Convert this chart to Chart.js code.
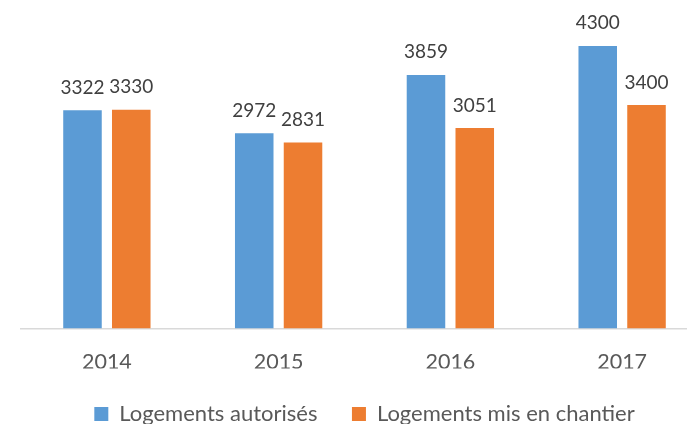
<!DOCTYPE html>
<html>
<head>
<meta charset="utf-8">
<script src="https://cdn.jsdelivr.net/npm/chart.js@4"></script>
<style>
  html, body { margin: 0; padding: 0; background: #fff; overflow: hidden; }
  #wrap { position: relative; width: 708px; height: 435px; }
</style>
</head>
<body>
<div id="wrap"><canvas id="chart"></canvas></div>
<script>
// data
const years = ['2014', '2015', '2016', '2017'];
const autorises = [3322, 2972, 3859, 4300];
const chantier = [3330, 2831, 3051, 3400];
const series_names = ['Logements autorisés', 'Logements mis en chantier'];

const FONT = 'Lato, "Open Sans", sans-serif';

// value labels above each bar
const barLabels = {
    id: 'barLabels',
    afterDatasetsDraw(chart) {
        const ctx = chart.ctx;
        ctx.save();
        ctx.font = '19px ' + FONT;
        ctx.fillStyle = '#404040';
        ctx.textAlign = 'center';
        ctx.textBaseline = 'alphabetic';
        chart.data.datasets.forEach((ds, i) => {
            chart.getDatasetMeta(i).data.forEach((bar, j) => {
                ctx.fillText(String(ds.data[j]), bar.x, bar.y - 16.5);
            });
        });
        ctx.restore();
    }
};

new Chart(document.getElementById('chart'), {
    type: 'bar',
    data: {
        labels: years,
        datasets: [
            { label: series_names[0], data: autorises, backgroundColor: '#5b9bd5' },
            { label: series_names[1], data: chantier, backgroundColor: '#ed7d31' }
        ]
    },
    options: {
        animation: false,
        responsive: true,
        maintainAspectRatio: false,
        categoryPercentage: 0.568,
        barPercentage: 0.79,
        layout: { padding: { left: 21, right: 0, top: 0, bottom: 0 } },
        scales: {
            x: {
                grid: { display: false },
                border: { display: true, color: '#d9d9d9', width: 1.5 },
                ticks: { color: '#595959', font: { family: FONT, size: 21.5 }, padding: 13 },
                afterFit(scale) { scale.height = 40; }
            },
            y: {
                display: false,
                min: 0,
                max: 5000
            }
        },
        plugins: {
            legend: {
                position: 'bottom',
                labels: {
                    boxWidth: 14,
                    boxHeight: 14,
                    padding: 34.5,
                    color: '#595959',
                    font: { family: FONT, size: 22 }
                }
            },
            tooltip: { enabled: false }
        }
    },
    plugins: [barLabels]
});
</script>
</body>
</html>
